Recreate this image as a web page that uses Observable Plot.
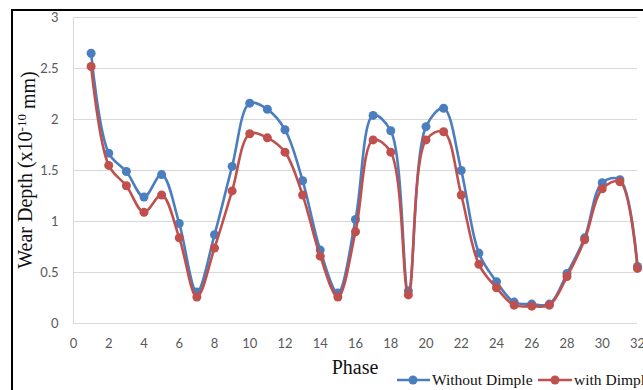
<!DOCTYPE html>
<html>
<head>
<meta charset="utf-8">
<script src="https://cdn.jsdelivr.net/npm/d3@7"></script>
<script src="https://cdn.jsdelivr.net/npm/@observablehq/plot@0.6"></script>
<style>
  html, body { margin: 0; padding: 0; background: #fff; overflow: hidden; }
</style>
</head>
<body>
<div id="chart"></div>
<script>
const phase = [1,2,3,4,5,6,7,8,9,10,11,12,13,14,15,16,17,18,19,20,21,22,23,24,25,26,27,28,29,30,31,32];
const withoutDimple = [2.65,1.67,1.49,1.24,1.46,0.98,0.31,0.87,1.54,2.16,2.10,1.90,1.40,0.72,0.30,1.02,2.04,1.89,0.32,1.93,2.11,1.50,0.69,0.41,0.21,0.19,0.19,0.49,0.84,1.38,1.41,0.56];
const withDimple = [2.52,1.55,1.35,1.09,1.26,0.84,0.26,0.74,1.30,1.86,1.82,1.68,1.26,0.66,0.26,0.90,1.80,1.68,0.28,1.80,1.88,1.26,0.58,0.35,0.18,0.17,0.18,0.46,0.82,1.32,1.39,0.54];
const seriesNames = ["Without Dimple", "with Dimple"];
const seriesColors = ["#4a7ebf", "#c0504d"];
const xTicks = [0,2,4,6,8,10,12,14,16,18,20,22,24,26,28,30,32];
const yTicks = [0,0.5,1,1.5,2,2.5,3];

const rowsA = phase.map((p, i) => ({phase: p, value: withoutDimple[i]}));
const rowsB = phase.map((p, i) => ({phase: p, value: withDimple[i]}));

const W = 643, H = 390;
const plot = Plot.plot({
  width: W,
  height: H,
  marginLeft: 73,
  marginRight: 6,
  marginTop: 17,
  marginBottom: 67,
  style: {fontFamily: "Lato, 'Open Sans', sans-serif", fontSize: "13px", color: "#595959", background: "#fff"},
  x: {domain: [0, 32]},
  y: {domain: [0, 3]},
  marks: [
    Plot.gridY(yTicks, {stroke: "#d9d9d9", strokeOpacity: 1, strokeWidth: 1}),
    Plot.ruleX([0], {stroke: "#d9d9d9", strokeWidth: 1}),
    Plot.axisY(yTicks, {tickSize: 0, tickPadding: 15, tickFormat: d => String(d), label: null, fill: "#595959"}),
    Plot.axisX(xTicks, {tickSize: 0, tickPadding: 15, tickFormat: d => String(d), label: null, fill: "#595959"}),
    Plot.line(rowsA, {x: "phase", y: "value", stroke: seriesColors[0], strokeWidth: 2.6, curve: "catmull-rom"}),
    Plot.dot(rowsA, {x: "phase", y: "value", r: 4.5, fill: seriesColors[0], stroke: "none"}),
    Plot.line(rowsB, {x: "phase", y: "value", stroke: seriesColors[1], strokeWidth: 2.6, curve: "catmull-rom"}),
    Plot.dot(rowsB, {x: "phase", y: "value", r: 4.5, fill: seriesColors[1], stroke: "none"})
  ]
});
document.getElementById("chart").appendChild(plot);

const svg = d3.select(plot);
const serif = "'Liberation Serif', 'Times New Roman', serif";

// frame lines
svg.append("line").attr("x1", 12).attr("y1", 10).attr("x2", W).attr("y2", 10)
  .attr("stroke", "#000").attr("stroke-width", 2);
svg.append("line").attr("x1", 12).attr("y1", 9).attr("x2", 12).attr("y2", H)
  .attr("stroke", "#000").attr("stroke-width", 2);

// y label
const yl = svg.append("text")
  .attr("transform", "translate(32,170) rotate(-90)")
  .attr("text-anchor", "middle")
  .attr("font-family", serif).attr("font-size", 20).attr("fill", "#111");
yl.append("tspan").text("Wear Depth (x10");
yl.append("tspan").attr("dy", "-0.45em").attr("font-size", 13).text("-10");
yl.append("tspan").attr("dy", "0.45em").text(" mm)");

// x label
svg.append("text").attr("x", 355).attr("y", 374).attr("text-anchor", "middle")
  .attr("font-family", serif).attr("font-size", 20).attr("fill", "#111").text("Phase");

// legend
const legendItems = [
  {x1: 397, x2: 430, cx: 413, tx: 432},
  {x1: 538, x2: 572, cx: 555, tx: 574}
];
legendItems.forEach((it, i) => {
  svg.append("line").attr("x1", it.x1).attr("x2", it.x2).attr("y1", 380).attr("y2", 380)
    .attr("stroke", seriesColors[i]).attr("stroke-width", 2.6);
  svg.append("circle").attr("cx", it.cx).attr("cy", 380).attr("r", 4.5).attr("fill", seriesColors[i]);
  svg.append("text").attr("x", it.tx).attr("y", 385).attr("text-anchor", "start")
    .attr("font-family", serif).attr("font-size", 15.5).attr("fill", "#111").text(seriesNames[i]);
});
</script>
</body>
</html>
